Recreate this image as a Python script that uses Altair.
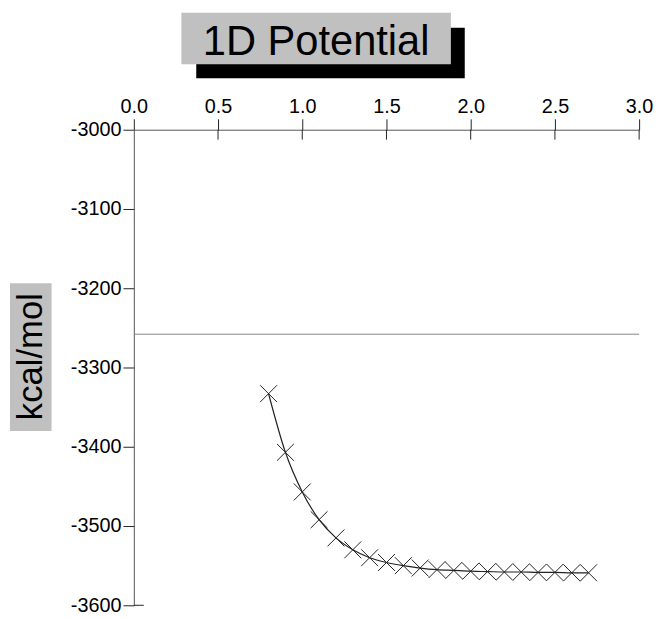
import altair as alt
import pandas as pd

# ---- data ----
x_vals = [0.8, 0.9, 1.0, 1.1, 1.2, 1.3, 1.4, 1.5, 1.6, 1.7,
          1.8, 1.9, 2.0, 2.1, 2.2, 2.3, 2.4, 2.5, 2.6, 2.7]
energy = [-3333, -3407, -3457, -3492, -3515, -3530, -3540, -3546, -3550, -3553,
          -3555, -3556, -3557, -3557.5, -3558, -3558, -3558.5, -3558.5, -3559, -3559]
ref_level = [-3258]
x_ticks = [0.0, 0.5, 1.0, 1.5, 2.0, 2.5, 3.0]
y_ticks = [-3000, -3100, -3200, -3300, -3400, -3500, -3600]
title_text = ["1D Potential"]
ylabel_text = ["kcal/mol"]

FONT = "Liberation Sans"
W, H = 510, 480

df = pd.DataFrame({"x": x_vals, "y": energy})
ref_df = pd.DataFrame({"x": [x_ticks[0]], "x2": [x_ticks[-1]], "y": ref_level})
tick_df = pd.DataFrame({"x": x_ticks[1:]})
bottom_df = pd.DataFrame({"y": [y_ticks[-1]]})

xscale = alt.Scale(domain=[0, 3], nice=False, zero=False)
yscale = alt.Scale(domain=[-3600, -3000], nice=False, zero=False)

xaxis = alt.Axis(orient="top", values=x_ticks, format=".1f", title=None,
                 grid=False, labelFontSize=20, labelFont=FONT, labelColor="black",
                 tickSize=11, tickColor="#222", domainColor="#555",
                 labelPadding=2, labelFlush=False, labelOverlap=False)
yaxis = alt.Axis(values=y_ticks, title=None, grid=False, labelFontSize=20,
                 labelFont=FONT, labelColor="black", tickSize=11, tickColor="#222",
                 domainColor="#555", labelPadding=2, labelExpr="'' + datum.value",
                 labelFlush=False, labelOverlap=False)

X = alt.X("x:Q", scale=xscale, axis=xaxis)
Y = alt.Y("y:Q", scale=yscale, axis=yaxis)

line = alt.Chart(df).mark_line(color="#222", strokeWidth=1.2, interpolate="monotone").encode(
    x=X, y=Y)
pts = alt.Chart(df).mark_point(
    shape="M-1,-1L1,1M1,-1L-1,1", size=290, filled=False, color="#222", strokeWidth=1, opacity=1
).encode(x=X, y=Y)
ref = alt.Chart(ref_df).mark_rule(color="#888", strokeWidth=1).encode(
    x=X, x2="x2:Q", y=Y)
inner_ticks = alt.Chart(tick_df).mark_rule(color="#222", strokeWidth=1).encode(
    x=X, y=alt.value(0), y2=alt.value(10))
bottom_tick = alt.Chart(bottom_df).mark_rule(color="#222", strokeWidth=1).encode(
    y=Y, x=alt.value(0), x2=alt.value(10))

tdf = pd.DataFrame({"t": title_text})
shadow = alt.Chart(tdf).mark_rect(color="black").encode(
    x=alt.value(63), x2=alt.value(334), y=alt.value(-103), y2=alt.value(-52))
tbox = alt.Chart(tdf).mark_rect(color="#c0c0c0").encode(
    x=alt.value(48), x2=alt.value(320), y=alt.value(-118), y2=alt.value(-66))
ttext = alt.Chart(tdf).mark_text(font=FONT, fontSize=42, color="black",
                                 align="center", baseline="alphabetic").encode(
    x=alt.value(184), y=alt.value(-75), text="t:N")

ldf = pd.DataFrame({"t": ylabel_text})
lbox = alt.Chart(ldf).mark_rect(color="#c0c0c0").encode(
    x=alt.value(-125), x2=alt.value(-83), y=alt.value(155), y2=alt.value(304))
ltext = alt.Chart(ldf).mark_text(font=FONT, fontSize=35, color="black", angle=270,
                                 align="center", baseline="alphabetic").encode(
    x=alt.value(-93), y=alt.value(229), text="t:N")

chart = alt.layer(line, pts, ref, inner_ticks, bottom_tick,
                  shadow, tbox, ttext, lbox, ltext).properties(
    width=W, height=H,
    autosize=alt.AutoSizeParams(type="none"),
    padding={"left": 127, "top": 120, "right": 14, "bottom": 12},
    background="white",
).configure_view(stroke="transparent")

chart.save("out.html", embed_options={"renderer": "svg", "actions": False})
